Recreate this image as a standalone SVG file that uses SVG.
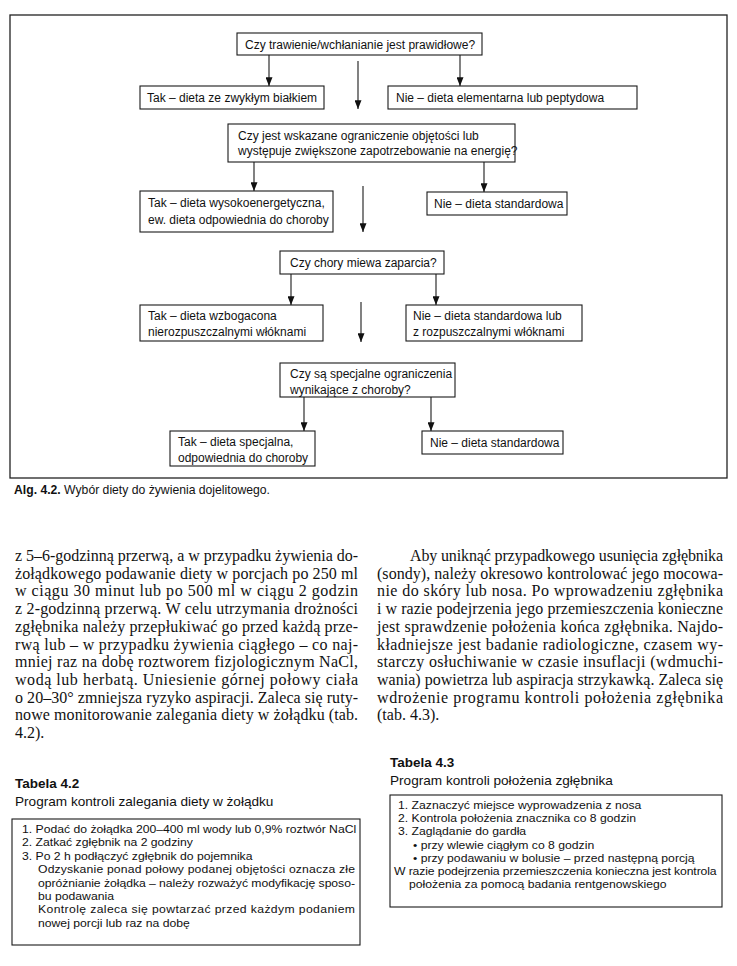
<svg xmlns="http://www.w3.org/2000/svg" width="737" height="966" viewBox="0 0 737 966">
<style>
.bx{fill:#fff;stroke:#1a1a1a;stroke-width:1.1}
.ft{font-family:"Liberation Sans",Arial,sans-serif;font-size:12px;fill:#111}
.ln{stroke:#1a1a1a;stroke-width:1.1;fill:none}
.bd{font-family:"Liberation Serif","Times New Roman",serif;font-size:16px;fill:#111}
.tb{font-family:"Liberation Sans",Arial,sans-serif;font-size:11.2px;fill:#111}
.th{font-family:"Liberation Sans",Arial,sans-serif;font-size:13.5px;font-weight:bold;fill:#111}
.ts{font-family:"Liberation Sans",Arial,sans-serif;font-size:13.6px;fill:#111}
.cap{font-family:"Liberation Sans",Arial,sans-serif;font-size:12.2px;fill:#111}
</style>
<defs>
<marker id="ah" viewBox="0 0 10 8" refX="10" refY="4" markerWidth="9" markerHeight="7" markerUnits="userSpaceOnUse" orient="auto">
<path d="M0,0 L10,4 L0,8 Z" fill="#111"/>
</marker>
</defs>
<rect x="10" y="15" width="717" height="463" fill="none" stroke="#222" stroke-width="1.3"/>

<g id="connectors">
<line class="ln" x1="269" y1="55" x2="269" y2="86" marker-end="url(#ah)"/>
<line class="ln" x1="460" y1="55" x2="460" y2="86" marker-end="url(#ah)"/>
<line class="ln" x1="358" y1="61" x2="358" y2="109" marker-end="url(#ah)"/>
<line class="ln" x1="254" y1="162" x2="254" y2="191" marker-end="url(#ah)"/>
<line class="ln" x1="484" y1="162" x2="484" y2="192" marker-end="url(#ah)"/>
<line class="ln" x1="363" y1="186" x2="363" y2="232" marker-end="url(#ah)"/>
<line class="ln" x1="291" y1="274" x2="291" y2="305" marker-end="url(#ah)"/>
<line class="ln" x1="436" y1="274" x2="436" y2="305" marker-end="url(#ah)"/>
<line class="ln" x1="361" y1="302" x2="361" y2="342" marker-end="url(#ah)"/>
<line class="ln" x1="304" y1="397" x2="304" y2="431" marker-end="url(#ah)"/>
<line class="ln" x1="431" y1="397" x2="431" y2="431" marker-end="url(#ah)"/>
</g>

<g id="q1"><rect class="bx" x="237" y="33" width="245" height="22"/><text class="ft" x="245" y="48.5">Czy trawienie/wchłanianie jest prawidłowe?</text></g>
<g id="q1-tak"><rect class="bx" x="140" y="86" width="184" height="23"/><text class="ft" x="147" y="102">Tak – dieta ze zwykłym białkiem</text></g>
<g id="q1-nie"><rect class="bx" x="388" y="86" width="249" height="23"/><text class="ft" x="396" y="102">Nie – dieta elementarna lub peptydowa</text></g>

<g id="q2"><rect class="bx" x="228" y="124" width="287" height="38"/><text class="ft" x="238" y="139.5">Czy jest wskazane ograniczenie objętości lub</text><text class="ft" x="238" y="155">występuje zwiększone zapotrzebowanie na energię?</text></g>
<g id="q2-tak"><rect class="bx" x="140" y="191" width="193" height="41"/><text class="ft" x="148" y="207">Tak – dieta wysokoenergetyczna,</text><text class="ft" x="148" y="224">ew. dieta odpowiednia do choroby</text></g>
<g id="q2-nie"><rect class="bx" x="427" y="192" width="140" height="23"/><text class="ft" x="434" y="208">Nie – dieta standardowa</text></g>

<g id="q3"><rect class="bx" x="280" y="251" width="164" height="23"/><text class="ft" x="290" y="267">Czy chory miewa zaparcia?</text></g>
<g id="q3-tak"><rect class="bx" x="140" y="305" width="183" height="36"/><text class="ft" x="148" y="320">Tak – dieta wzbogacona</text><text class="ft" x="148" y="336">nierozpuszczalnymi włóknami</text></g>
<g id="q3-nie"><rect class="bx" x="406" y="305" width="176" height="36"/><text class="ft" x="413" y="320">Nie – dieta standardowa lub</text><text class="ft" x="413" y="336">z rozpuszczalnymi włóknami</text></g>

<g id="q4"><rect class="bx" x="280" y="363" width="175" height="34"/><text class="ft" x="290" y="378">Czy są specjalne  ograniczenia</text><text class="ft" x="290" y="393.5">wynikające z choroby?</text></g>
<g id="q4-tak"><rect class="bx" x="170" y="431" width="145" height="35"/><text class="ft" x="178" y="446">Tak – dieta specjalna,</text><text class="ft" x="178" y="461.5">odpowiednia do choroby</text></g>
<g id="q4-nie"><rect class="bx" x="422" y="431" width="141" height="23"/><text class="ft" x="430" y="447">Nie – dieta standardowa</text></g>

<text class="cap" x="14" y="494"><tspan font-weight="bold">Alg. 4.2.</tspan> Wybór diety do żywienia dojelitowego.</text>

<g id="col-left" class="bd">
<text x="15" y="561" textLength="343" lengthAdjust="spacing">z 5–6-godzinną przerwą, a w przypadku żywienia do-</text>
<text x="15" y="578.7" textLength="343" lengthAdjust="spacing">żołądkowego podawanie diety w porcjach po 250 ml</text>
<text x="15" y="596.4" textLength="343" lengthAdjust="spacing">w ciągu 30 minut lub po 500 ml w ciągu 2 godzin</text>
<text x="15" y="614.1" textLength="343" lengthAdjust="spacing">z 2-godzinną przerwą. W celu utrzymania drożności</text>
<text x="15" y="631.8" textLength="343" lengthAdjust="spacing">zgłębnika należy przepłukiwać go przed każdą prze-</text>
<text x="15" y="649.5" textLength="343" lengthAdjust="spacing">rwą lub – w przypadku żywienia ciągłego – co naj-</text>
<text x="15" y="667.2" textLength="343" lengthAdjust="spacing">mniej raz na dobę roztworem fizjologicznym NaCl,</text>
<text x="15" y="684.9" textLength="343" lengthAdjust="spacing">wodą lub herbatą. Uniesienie górnej połowy ciała</text>
<text x="15" y="702.6" textLength="343" lengthAdjust="spacing">o 20–30° zmniejsza ryzyko aspiracji. Zaleca się ruty-</text>
<text x="15" y="720.3" textLength="343" lengthAdjust="spacing">nowe monitorowanie zalegania diety w żołądku (tab.</text>
<text x="15" y="738">4.2).</text>
</g>

<g id="col-right" class="bd">
<text x="410" y="561" textLength="313" lengthAdjust="spacing">Aby uniknąć przypadkowego usunięcia zgłębnika</text>
<text x="377" y="578.7" textLength="346" lengthAdjust="spacing">(sondy), należy okresowo kontrolować jego mocowa-</text>
<text x="377" y="596.4" textLength="346" lengthAdjust="spacing">nie do skóry lub nosa. Po wprowadzeniu zgłębnika</text>
<text x="377" y="614.1" textLength="346" lengthAdjust="spacing">i w razie podejrzenia jego przemieszczenia konieczne</text>
<text x="377" y="631.8" textLength="346" lengthAdjust="spacing">jest sprawdzenie położenia końca zgłębnika. Najdo-</text>
<text x="377" y="649.5" textLength="346" lengthAdjust="spacing">kładniejsze jest badanie radiologiczne, czasem wy-</text>
<text x="377" y="667.2" textLength="346" lengthAdjust="spacing">starczy osłuchiwanie w czasie insuflacji (wdmuchi-</text>
<text x="377" y="684.9" textLength="346" lengthAdjust="spacing">wania) powietrza lub aspiracja strzykawką. Zaleca się</text>
<text x="377" y="702.6" textLength="346" lengthAdjust="spacing">wdrożenie programu kontroli położenia zgłębnika</text>
<text x="377" y="720.3">(tab. 4.3).</text>
</g>

<g id="tab42">
<text class="th" x="15" y="788">Tabela 4.2</text>
<text class="ts" x="15" y="806">Program kontroli zalegania diety w żołądku</text>
<rect class="bx" x="12" y="819" width="348" height="126"/>
<g class="tb">
<text transform="translate(22,833) scale(1.09,1)">1. Podać do żołądka 200–400 ml wody lub 0,9% roztwór NaCl</text>
<text transform="translate(22,846.4) scale(1.09,1)">2. Zatkać zgłębnik na 2 godziny</text>
<text transform="translate(22,859.8) scale(1.09,1)">3. Po 2 h podłączyć zgłębnik do pojemnika</text>
<text transform="translate(38,873.2) scale(1.09,1)" textLength="290.8" lengthAdjust="spacing">Odzyskanie ponad połowy podanej objętości oznacza złe</text>
<text transform="translate(38,886.6) scale(1.09,1)" textLength="290.8" lengthAdjust="spacing">opróżnianie żołądka – należy rozważyć modyfikację sposo-</text>
<text transform="translate(38,900) scale(1.09,1)">bu podawania</text>
<text transform="translate(38,913.4) scale(1.09,1)" textLength="290.8" lengthAdjust="spacing">Kontrolę zaleca się powtarzać przed każdym podaniem</text>
<text transform="translate(38,926.8) scale(1.09,1)">nowej porcji lub raz na dobę</text>
</g>
</g>

<g id="tab43">
<text class="th" x="390" y="767">Tabela 4.3</text>
<text class="ts" x="390" y="785">Program kontroli położenia zgłębnika</text>
<rect class="bx" x="390" y="795" width="332" height="112"/>
<g class="tb">
<text transform="translate(398,809) scale(1.09,1)">1. Zaznaczyć miejsce wyprowadzenia z nosa</text>
<text transform="translate(398,822.2) scale(1.09,1)">2. Kontrola położenia znacznika co 8 godzin</text>
<text transform="translate(398,835.4) scale(1.09,1)">3. Zaglądanie do gardła</text>
<text transform="translate(413,848.6) scale(1.09,1)">•  przy wlewie ciągłym co 8 godzin</text>
<text transform="translate(413,861.8) scale(1.09,1)">•  przy podawaniu w bolusie – przed następną porcją</text>
<text transform="translate(394,875) scale(1.09,1)" textLength="296" lengthAdjust="spacing">W razie podejrzenia przemieszczenia konieczna jest kontrola</text>
<text transform="translate(409,888.2) scale(1.09,1)">położenia za pomocą badania rentgenowskiego</text>
</g>
</g>
</svg>
